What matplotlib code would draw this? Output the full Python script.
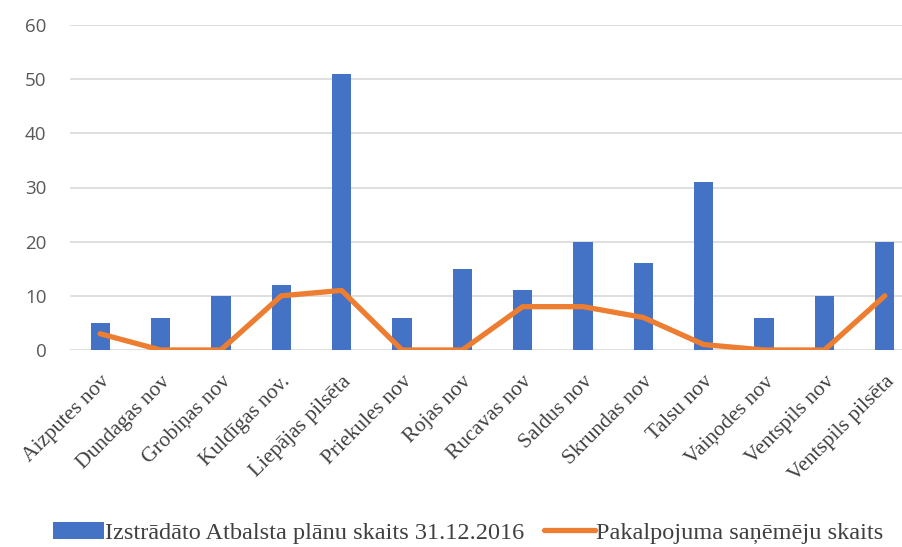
import matplotlib
matplotlib.use("Agg")
import matplotlib.pyplot as plt
import numpy as np

categories = ["Aizputes nov", "Dundagas nov", "Grobiņas nov", "Kuldīgas nov.",
              "Liepājas pilsēta", "Priekules nov", "Rojas nov", "Rucavas nov",
              "Saldus nov", "Skrundas nov", "Talsu nov", "Vaiņodes nov",
              "Ventspils nov", "Ventspils pilsēta"]
plans = [5, 6, 10, 12, 51, 6, 15, 11, 20, 16, 31, 6, 10, 20]
recipients = [3, 0, 0, 10, 11, 0, 0, 8, 8, 6, 1, 0, 0, 10]
yticks = [0, 10, 20, 30, 40, 50, 60]

fig = plt.figure(figsize=(9.02, 5.47), dpi=100)
ax = fig.add_axes([70/902, 1-350/547, 845/902, 325/547])
x = np.arange(len(categories))
bars = ax.bar(x, plans, width=0.32, color="#4472C4", zorder=2,
              label="Izstrādāto Atbalsta plānu skaits 31.12.2016")
line, = ax.plot(x, recipients, color="#ED7D31", lw=3.8, zorder=3, solid_capstyle="round",
                solid_joinstyle="round", label="Pakalpojuma saņēmēju skaits")
ax.set_xlim(-0.5, len(categories)-0.5)
ax.set_ylim(0, 60)
ax.set_yticks(yticks)
ax.yaxis.grid(True, color="#D9D9D9", lw=1.2, zorder=0)
for s in ax.spines.values():
    s.set_visible(False)
ax.tick_params(axis="both", length=0)
ax.tick_params(axis="y", labelsize=13.5, labelcolor="#595959", pad=17)
ax.tick_params(axis="x", pad=16)
for lab in ax.get_yticklabels():
    lab.set_family("Open Sans")
ax.set_xticks(x)
ax.set_xticklabels(categories, rotation=45, ha="right", va="top", rotation_mode="anchor",
                   family="Liberation Serif", fontsize=15.5, color="#404040")

leg = fig.legend(handles=[bars, line], loc="center", bbox_to_anchor=(468/902, 1-533/547),
                 ncol=2, frameon=False,
                 prop={"family": "Liberation Serif", "size": 17.5}, handlelength=2.1,
                 columnspacing=0.8, handletextpad=0.05, labelcolor="#404040")
fig.savefig("out.png", dpi=100)
